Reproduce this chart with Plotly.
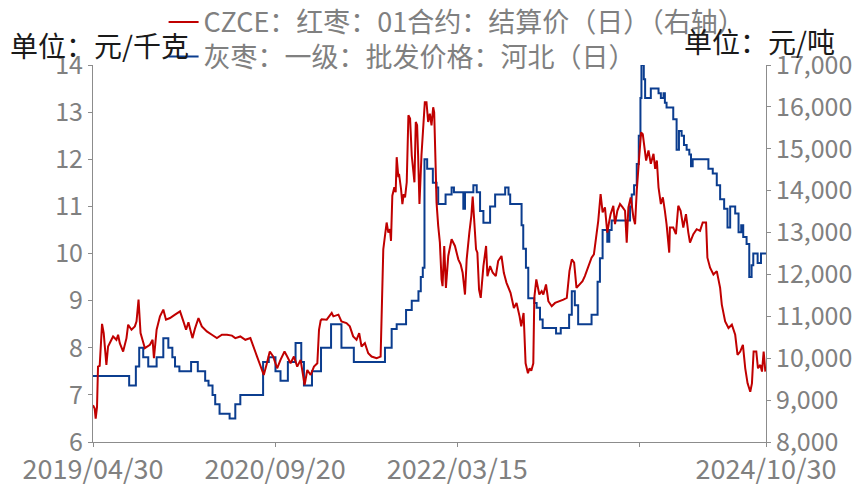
import plotly.graph_objects as go

# 灰枣：一级：批发价格：河北（日），元/千克（左轴），阶梯变化
gray_dates = [
    "2019-04-30", "2019-08-16", "2019-09-05", "2019-09-15", "2019-09-27", "2019-10-12",
    "2019-11-06", "2019-11-26", "2019-12-11", "2019-12-23", "2019-12-31", "2020-01-13",
    "2020-02-17", "2020-03-08", "2020-03-30", "2020-04-09", "2020-04-21", "2020-04-29",
    "2020-05-12", "2020-06-11", "2020-06-28", "2020-07-13", "2020-09-19", "2020-10-06",
    "2020-10-26", "2020-11-10", "2020-12-02", "2020-12-25", "2021-01-11", "2021-01-19",
    "2021-02-12", "2021-03-11", "2021-04-10", "2021-05-11", "2021-06-17", "2021-09-18",
    "2021-10-08", "2021-10-23", "2021-11-20", "2021-12-07", "2021-12-27", "2022-01-03",
    "2022-01-09", "2022-01-14", "2022-01-22", "2022-02-08", "2022-02-19", "2022-02-24",
    "2022-03-18", "2022-04-05", "2022-04-12", "2022-05-10", "2022-05-15", "2022-06-09",
    "2022-06-19", "2022-06-29", "2022-07-09", "2022-07-29", "2022-08-13", "2022-09-12",
    "2022-09-22", "2022-09-27", "2022-10-31", "2022-11-05", "2022-11-13", "2022-11-20",
    "2022-12-08", "2022-12-15", "2022-12-25", "2023-01-02", "2023-02-11", "2023-02-25",
    "2023-03-22", "2023-03-30", "2023-04-08", "2023-04-18", "2023-05-28", "2023-06-15",
    "2023-06-22", "2023-06-30", "2023-07-14", "2023-07-20", "2023-07-27", "2023-09-20",
    "2023-09-25", "2023-10-02", "2023-10-10", "2023-10-16", "2023-10-21", "2023-10-24",
    "2023-10-31", "2023-11-04", "2023-11-21", "2023-12-14", "2023-12-21", "2023-12-29",
    "2024-01-02", "2024-01-07", "2024-01-27", "2024-02-06", "2024-02-13", "2024-02-21",
    "2024-02-28", "2024-03-07", "2024-03-15", "2024-03-20", "2024-03-25", "2024-05-11",
    "2024-05-24", "2024-06-05", "2024-06-15", "2024-06-27", "2024-07-07", "2024-07-15",
    "2024-07-30", "2024-08-09", "2024-08-17", "2024-08-23", "2024-09-02", "2024-09-10",
    "2024-09-17", "2024-09-22", "2024-10-05", "2024-10-15", "2024-10-30",
]
gray_price = [
    7.4, 7.2, 7.6, 8.0, 7.8, 7.6,
    7.8, 8.2, 8.0, 7.8, 7.6, 7.5,
    7.7, 7.5, 7.3, 7.2, 7.0, 6.8,
    6.6, 6.5, 6.8, 7.0, 7.7, 7.8,
    7.5, 7.3, 7.7, 8.1, 7.7, 7.2,
    7.5, 8.0, 8.5, 8.0, 7.7, 8.0,
    8.4, 8.5, 8.8, 9.0, 9.2, 9.5,
    9.7, 12.0, 11.8, 11.5, 11.4, 11.05,
    11.25, 11.4, 11.3, 10.95, 11.3, 11.45,
    11.3, 10.9, 10.65, 11.0, 11.25, 11.4,
    11.25, 11.05, 10.6, 10.1, 9.7, 9.05,
    8.95, 8.85, 8.6, 8.42, 8.3, 8.42,
    8.7, 9.2, 8.9, 8.5, 8.7, 9.4,
    9.9, 10.5, 10.25, 10.5, 10.7, 11.0,
    11.25, 11.45, 11.9, 12.5, 13.3, 14.0,
    13.7, 13.3, 13.5, 13.4, 13.3, 13.4,
    13.2, 13.1, 12.85, 12.2, 12.6, 12.5,
    12.3, 12.2, 12.1, 11.85, 12.0, 11.8,
    11.7, 11.45, 11.15, 10.95, 10.55, 11.0,
    10.85, 10.45, 10.6, 10.35, 10.2, 9.5,
    9.75, 10.0, 9.8, 10.0, 10.0,
]

# CZCE：红枣：01合约：结算价（日），元/吨（右轴）
czce_dates = [
    "2019-04-30", "2019-05-05", "2019-05-08", "2019-05-12", "2019-05-15", "2019-05-20",
    "2019-05-27", "2019-06-01", "2019-06-09", "2019-06-14", "2019-06-24", "2019-06-29",
    "2019-07-09", "2019-07-14", "2019-07-19", "2019-07-29", "2019-08-08", "2019-08-13",
    "2019-08-23", "2019-09-02", "2019-09-07", "2019-09-13", "2019-09-19", "2019-09-25",
    "2019-10-02", "2019-10-17", "2019-10-25", "2019-10-29", "2019-11-06", "2019-11-16",
    "2019-11-26", "2019-12-04", "2019-12-16", "2019-12-31", "2020-01-15", "2020-01-25",
    "2020-02-02", "2020-02-09", "2020-02-21", "2020-02-29", "2020-03-10", "2020-03-20",
    "2020-04-04", "2020-04-19", "2020-05-04", "2020-05-19", "2020-06-03", "2020-06-18",
    "2020-06-28", "2020-07-13", "2020-07-28", "2020-08-12", "2020-08-22", "2020-09-01",
    "2020-09-11", "2020-09-21", "2020-09-29", "2020-10-09", "2020-10-19", "2020-10-31",
    "2020-11-10", "2020-11-22", "2020-11-30", "2020-12-10", "2020-12-20", "2020-12-30",
    "2021-01-09", "2021-01-21", "2021-01-29", "2021-02-08", "2021-02-18", "2021-02-28",
    "2021-03-05", "2021-03-10", "2021-03-13", "2021-03-28", "2021-04-12", "2021-04-17",
    "2021-05-02", "2021-05-11", "2021-05-26", "2021-06-05", "2021-06-15", "2021-06-25",
    "2021-07-03", "2021-07-10", "2021-07-20", "2021-07-30", "2021-08-09", "2021-08-24",
    "2021-09-05", "2021-09-10", "2021-09-13", "2021-09-23", "2021-09-28", "2021-10-03",
    "2021-10-06", "2021-10-10", "2021-10-16", "2021-10-20", "2021-10-23", "2021-10-28",
    "2021-10-30", "2021-11-05", "2021-11-09", "2021-11-13", "2021-11-17", "2021-11-22",
    "2021-11-27", "2021-12-02", "2021-12-07", "2021-12-12", "2021-12-15", "2021-12-19",
    "2021-12-23", "2021-12-26", "2021-12-30", "2022-01-05", "2022-01-10", "2022-01-15",
    "2022-01-20", "2022-01-25", "2022-01-30", "2022-02-04", "2022-02-09", "2022-02-12",
    "2022-02-16", "2022-02-19", "2022-02-24", "2022-03-01", "2022-03-06", "2022-03-09",
    "2022-03-14", "2022-03-19", "2022-03-26", "2022-04-05", "2022-04-15", "2022-04-25",
    "2022-05-02", "2022-05-08", "2022-05-15", "2022-05-20", "2022-05-28", "2022-06-03",
    "2022-06-07", "2022-06-11", "2022-06-17", "2022-06-21", "2022-06-26", "2022-07-01",
    "2022-07-09", "2022-07-17", "2022-07-21", "2022-07-29", "2022-08-06", "2022-08-15",
    "2022-08-22", "2022-09-01", "2022-09-08", "2022-09-16", "2022-09-28", "2022-10-08",
    "2022-10-16", "2022-10-25", "2022-10-30", "2022-11-06", "2022-11-12", "2022-11-19",
    "2022-11-24", "2022-11-29", "2022-12-05", "2022-12-08", "2022-12-14", "2022-12-23",
    "2022-12-30", "2023-01-04", "2023-01-12", "2023-01-19", "2023-01-29", "2023-02-08",
    "2023-02-23", "2023-03-05", "2023-03-15", "2023-03-23", "2023-03-30", "2023-04-06",
    "2023-04-13", "2023-04-23", "2023-05-01", "2023-05-08", "2023-05-18", "2023-05-28",
    "2023-06-04", "2023-06-12", "2023-06-17", "2023-06-24", "2023-06-30", "2023-07-07",
    "2023-07-14", "2023-07-20", "2023-07-24", "2023-08-01", "2023-08-06", "2023-08-13",
    "2023-08-21", "2023-08-29", "2023-09-05", "2023-09-10", "2023-09-15", "2023-09-22",
    "2023-09-30", "2023-10-05", "2023-10-10", "2023-10-18", "2023-10-23", "2023-10-28",
    "2023-11-01", "2023-11-07", "2023-11-14", "2023-11-21", "2023-11-29", "2023-12-04",
    "2023-12-09", "2023-12-14", "2023-12-21", "2023-12-27", "2024-01-02", "2024-01-07",
    "2024-01-15", "2024-01-17", "2024-01-27", "2024-02-04", "2024-02-11", "2024-02-18",
    "2024-02-26", "2024-03-05", "2024-03-12", "2024-03-17", "2024-03-27", "2024-04-06",
    "2024-04-16", "2024-04-24", "2024-05-04", "2024-05-08", "2024-05-16", "2024-05-26",
    "2024-06-05", "2024-06-10", "2024-06-15", "2024-06-20", "2024-06-30", "2024-07-10",
    "2024-07-20", "2024-07-30", "2024-08-06", "2024-08-14", "2024-08-22", "2024-08-29",
    "2024-09-05", "2024-09-13", "2024-09-18", "2024-09-23", "2024-10-01", "2024-10-06",
    "2024-10-13", "2024-10-18", "2024-10-23", "2024-10-28",
]
czce_settle = [
    8880, 8800, 8560, 8840, 9800, 9820,
    10820, 10600, 9840, 10280, 10440, 10520,
    10440, 10560, 10360, 10160, 10480, 10800,
    10680, 10760, 10880, 11400, 10600, 10440,
    10240, 10320, 10440, 10000, 10680, 11000,
    11160, 10920, 10960, 11040, 11120, 10880,
    10680, 10860, 10480, 10720, 10960, 10760,
    10640, 10560, 10480, 10560, 10560, 10540,
    10480, 10520, 10440, 10480, 10280, 10040,
    9820, 9600, 9840, 10160, 10040, 9760,
    9960, 10160, 10040, 9880, 10040, 9800,
    9960, 9360, 9720, 9600, 9800, 9880,
    10680, 10900, 10930, 10920, 11080, 11000,
    11040, 10880, 10840, 10760, 10520, 10440,
    10600, 10280, 10360, 10120, 10040, 10000,
    10040, 11880, 12600, 13240, 13000, 13080,
    12800, 13880, 14080, 13960, 14800, 14320,
    14400, 14040, 13680, 13920, 13840, 14200,
    15800, 15720, 14840, 14440, 14200, 15640,
    15560, 14840, 13680, 14840, 15560, 16110,
    16110, 15640, 15840, 15560, 15990, 15870,
    14680, 13720, 13160, 12760, 11880, 11720,
    12680, 11680, 12440, 12840, 12680, 12360,
    12240, 12040, 11520, 12360, 13000, 13400,
    13860, 13320, 12600, 12520, 11640, 11440,
    12200, 12680, 11960, 12200, 12040, 11960,
    12320, 12440, 12040, 11800, 11560, 11200,
    11320, 11000, 10760, 11080, 9880, 9640,
    9760, 9700, 9880, 11440, 11880, 11520,
    11600, 11520, 11760, 11360, 11240, 11320,
    11360, 11400, 11440, 12080, 12360, 12280,
    11680, 11760, 11840, 11960, 12160, 12400,
    12480, 12920, 13280, 13920, 13480, 13600,
    13000, 13280, 13440, 13640, 13200, 13520,
    13680, 13600, 13520, 12760, 13600, 13840,
    13360, 13200, 14000, 14880, 15390, 15350,
    15110, 14720, 14960, 14640, 14880, 14520,
    14720, 14080, 13680, 13840, 13520, 13200,
    12520, 13120, 13120, 12960, 13640, 13520,
    13120, 13440, 13000, 12760, 12960, 13080,
    13040, 13240, 13240, 12400, 12160, 12000,
    12080, 11840, 11680, 11280, 10880, 10720,
    10800, 10560, 10080, 10160, 10320, 9760,
    9400, 9200, 9400, 10160, 10160, 9760,
    9840, 9680, 10160, 9680,
]

assert len(gray_dates) == len(gray_price)
assert len(czce_dates) == len(czce_settle)

# x轴刻度（最后一个刻度前的那个不标注）
tick_dates = ["2019-04-30", "2020-10-25", "2022-04-22", "2023-10-18", "2024-10-30"]
tick_labels = ["2019/04/30", "2020/09/20", "2022/03/15", "", "2024/10/30"]

FONT = "Noto Sans CJK SC"
GREY = "#808080"
AXIS = "#8c8c8c"

fig = go.Figure()

fig.add_trace(go.Scatter(
    x=gray_dates, y=gray_price,
    name="灰枣：一级：批发价格：河北（日）",
    mode="lines", line=dict(color="#0b3d8f", width=2, shape="hv"),
    legend="legend2",
))
fig.add_trace(go.Scatter(
    x=czce_dates, y=czce_settle, yaxis="y2",
    name="CZCE：红枣：01合约：结算价（日）（右轴）",
    mode="lines", line=dict(color="#c00000", width=2),
    legend="legend",
))

axis_style = dict(
    showgrid=False, zeroline=False,
    showline=True, linecolor=AXIS, linewidth=1,
    ticks="outside", ticklen=4, tickcolor=AXIS,
    tickfont=dict(size=25, color=GREY),
)

# 页面有8px的边距，画布相应缩小
fig.update_layout(
    width=853, height=478,
    margin=dict(l=85, r=95, t=57, b=44, autoexpand=False),
    plot_bgcolor="white", paper_bgcolor="white",
    font=dict(family=FONT, size=25, color=GREY),
    showlegend=True,
    xaxis=dict(
        type="date", range=["2019-04-30", "2024-10-30"],
        tickmode="array", tickvals=tick_dates, ticktext=tick_labels,
        tickangle=0, **{**axis_style, "tickfont": dict(size=27, color=GREY)},
    ),
    yaxis=dict(range=[6, 14], dtick=1, **axis_style),
    yaxis2=dict(
        range=[8000, 17000], dtick=1000, tickformat=",",
        overlaying="y", side="right", **axis_style,
    ),
    legend=dict(
        xref="container", yref="container", x=0.1824, y=0.97,
        xanchor="left", yanchor="middle",
        bgcolor="rgba(0,0,0,0)", font=dict(size=27, color=GREY),
    ),
    legend2=dict(
        xref="container", yref="container", x=0.1824, y=0.8975,
        xanchor="left", yanchor="middle",
        bgcolor="rgba(0,0,0,0)", font=dict(size=27, color=GREY),
    ),
    annotations=[
        dict(text="单位：元/千克", xref="paper", yref="paper", x=-0.1263, y=1.053,
             xanchor="left", yanchor="middle", showarrow=False,
             font=dict(size=28, color="#1a1a1a")),
        dict(text="单位：元/吨", xref="paper", yref="paper", x=1.1055, y=1.064,
             xanchor="right", yanchor="middle", showarrow=False,
             font=dict(size=28, color="#1a1a1a")),
    ],
)

fig.write_html("out.html")
